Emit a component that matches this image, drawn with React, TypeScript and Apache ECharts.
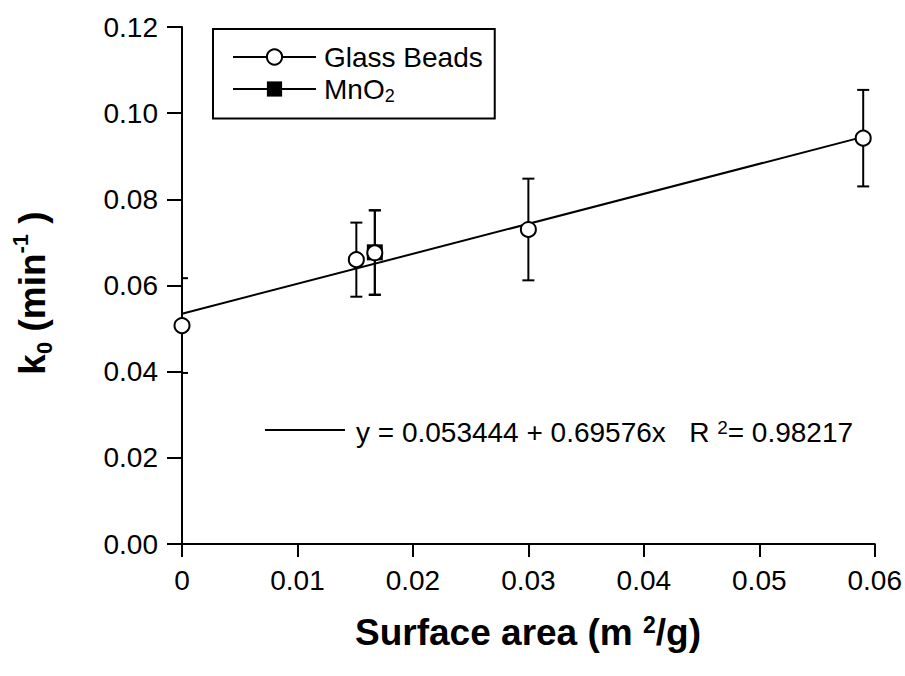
import React, { useEffect, useRef } from "react";
import * as echarts from "echarts";

// ---- data ----
const glassX = [0, 0.0151, 0.0167, 0.03, 0.059];
const glassY = [0.0507, 0.066, 0.0676, 0.073, 0.0942];
const glassErr = [0.011, 0.0086, 0.0098, 0.0118, 0.0112];

const mnX = [0.0167];
const mnY = [0.0677];
const mnErr = [0.0098];

// linear fit reported on the chart
const fitIntercept = 0.053444;
const fitSlope = 0.69576;
const fitR2 = 0.98217;
const fitRange = [0, 0.059];

const xTicks = { min: 0, max: 0.06, interval: 0.01 };
const yTicks = { min: 0, max: 0.12, interval: 0.02 };

const FONT = "'Liberation Sans', Arial, Helvetica, sans-serif";

export default function App() {
  const ref = useRef<HTMLDivElement>(null);

  useEffect(() => {
    if (!ref.current) return;
    const chart = echarts.init(ref.current, undefined, { renderer: "svg" });

    const errData: number[][] = [];
    glassX.forEach((x, i) => errData.push([x, glassY[i] - glassErr[i], glassY[i] + glassErr[i]]));
    mnX.forEach((x, i) => errData.push([x, mnY[i] - mnErr[i], mnY[i] + mnErr[i]]));

    const fitData = fitRange.map((x) => [x, fitIntercept + fitSlope * x]);

    const axisCommon = {
      type: "value" as const,
      axisLine: { show: true, onZero: false, lineStyle: { color: "#000", width: 2 } },
      splitLine: { show: false },
      axisLabel: { color: "#000", fontSize: 28, fontFamily: FONT },
    };

    const option: any = {
      animation: false,
      textStyle: { fontFamily: FONT },
      grid: { left: 182, right: 30, top: 27, bottom: 132, containLabel: false },
      xAxis: {
        ...axisCommon,
        ...xTicks,
        axisTick: { show: true, length: 13, lineStyle: { color: "#000", width: 2 } },
        axisLabel: {
          ...axisCommon.axisLabel,
          margin: 22,
          formatter: (v: number) => (v === 0 ? "0" : String(+v.toFixed(2))),
        },
      },
      yAxis: {
        ...axisCommon,
        ...yTicks,
        axisTick: { show: true, length: 15, lineStyle: { color: "#000", width: 2 } },
        axisLabel: {
          ...axisCommon.axisLabel,
          margin: 24,
          formatter: (v: number) => v.toFixed(2),
        },
      },
      legend: {
        orient: "vertical",
        left: 213,
        top: 29,
        padding: [14, 12, 14, 19],
        itemGap: 4,
        itemWidth: 83,
        itemHeight: 19,
        borderColor: "#000",
        borderWidth: 2,
        data: ["Glass Beads", "MnO2"],
        lineStyle: { color: "#000", width: 2, opacity: 1 },
        formatter: (name: string) => (name === "MnO2" ? "{a|MnO}{sub|2}" : "{a|" + name + "}"),
        textStyle: {
          color: "#000",
          fontSize: 28,
          fontFamily: FONT,
          padding: [0, 0, 0, 3],
          rich: {
            a: { fontSize: 28, lineHeight: 31, color: "#000", fontFamily: FONT },
            sub: { fontSize: 18, lineHeight: 18, verticalAlign: "bottom", color: "#000", fontFamily: FONT },
          },
        },
      },
      series: [
        {
          type: "custom",
          name: "errors",
          z: 1,
          clip: true,
          data: errData,
          renderItem: (params: any, api: any) => {
            const x = api.value(0);
            const lo = api.coord([x, api.value(1)]);
            const hi = api.coord([x, api.value(2)]);
            const w = 6;
            const st = { stroke: "#000", lineWidth: 2 };
            return {
              type: "group",
              children: [
                { type: "line", shape: { x1: lo[0], y1: lo[1], x2: hi[0], y2: hi[1] }, style: st },
                { type: "line", shape: { x1: lo[0] - w, y1: lo[1], x2: lo[0] + w, y2: lo[1] }, style: st },
                { type: "line", shape: { x1: hi[0] - w, y1: hi[1], x2: hi[0] + w, y2: hi[1] }, style: st },
              ],
            };
          },
        },
        {
          type: "line",
          name: "fit",
          z: 2,
          data: fitData,
          symbol: "none",
          lineStyle: { color: "#000", width: 2 },
        },
        {
          type: "line",
          name: "MnO2",
          z: 3,
          data: mnX.map((x, i) => [x, mnY[i]]),
          symbol: "rect",
          symbolSize: 16,
          showAllSymbol: true,
          lineStyle: { opacity: 0, width: 0 },
          itemStyle: { color: "#000", borderColor: "#000", borderWidth: 0 },
        },
        {
          type: "line",
          name: "Glass Beads",
          z: 4,
          data: glassX.map((x, i) => [x, glassY[i]]),
          symbol: "circle",
          symbolSize: 15,
          showAllSymbol: true,
          lineStyle: { opacity: 0, width: 0 },
          itemStyle: { color: "#fff", borderColor: "#000", borderWidth: 2 },
        },
      ],
      graphic: [
        {
          type: "line",
          shape: { x1: 265, y1: 430, x2: 345, y2: 430 },
          style: { stroke: "#000", lineWidth: 2 },
        },
        {
          type: "text",
          x: 356,
          y: 432,
          style: {
            text:
              "y = " + fitIntercept + " + " + fitSlope + "x   R {sup|2}= " + fitR2,
            fill: "#000",
            fontSize: 28,
            fontFamily: FONT,
            verticalAlign: "middle",
            align: "left",
            rich: {
              sup: { fontSize: 19, verticalAlign: "top", fill: "#000", fontFamily: FONT },
            },
          },
        },
        {
          type: "text",
          x: 528,
          y: 632,
          style: {
            text: "Surface area (m {sup|2}/g)",
            fill: "#000",
            fontSize: 37,
            fontWeight: "bold",
            fontFamily: FONT,
            align: "center",
            verticalAlign: "middle",
            rich: {
              sup: { fontSize: 23, fontWeight: "bold", verticalAlign: "top", fill: "#000", fontFamily: FONT },
            },
          },
        },
        {
          type: "text",
          x: 32,
          y: 293,
          rotation: Math.PI / 2,
          style: {
            text: "{b|k}{sub|0}{b| (min}{sup|-1}{b| )}",
            fill: "#000",
            fontSize: 37,
            fontWeight: "bold",
            fontFamily: FONT,
            align: "center",
            verticalAlign: "middle",
            rich: {
              b: { fontSize: 37, lineHeight: 46, fontWeight: "bold", fill: "#000", fontFamily: FONT },
              sub: { fontSize: 22, lineHeight: 22, fontWeight: "bold", verticalAlign: "bottom", fill: "#000", fontFamily: FONT },
              sup: { fontSize: 22, lineHeight: 22, fontWeight: "bold", verticalAlign: "top", fill: "#000", fontFamily: FONT },
            },
          },
        },
      ],
    };

    chart.setOption(option);
    return () => chart.dispose();
  }, []);

  return (
    <div
      ref={ref}
      style={{ position: "fixed", left: 0, top: 0, width: 905, height: 676, background: "#fff" }}
    />
  );
}
